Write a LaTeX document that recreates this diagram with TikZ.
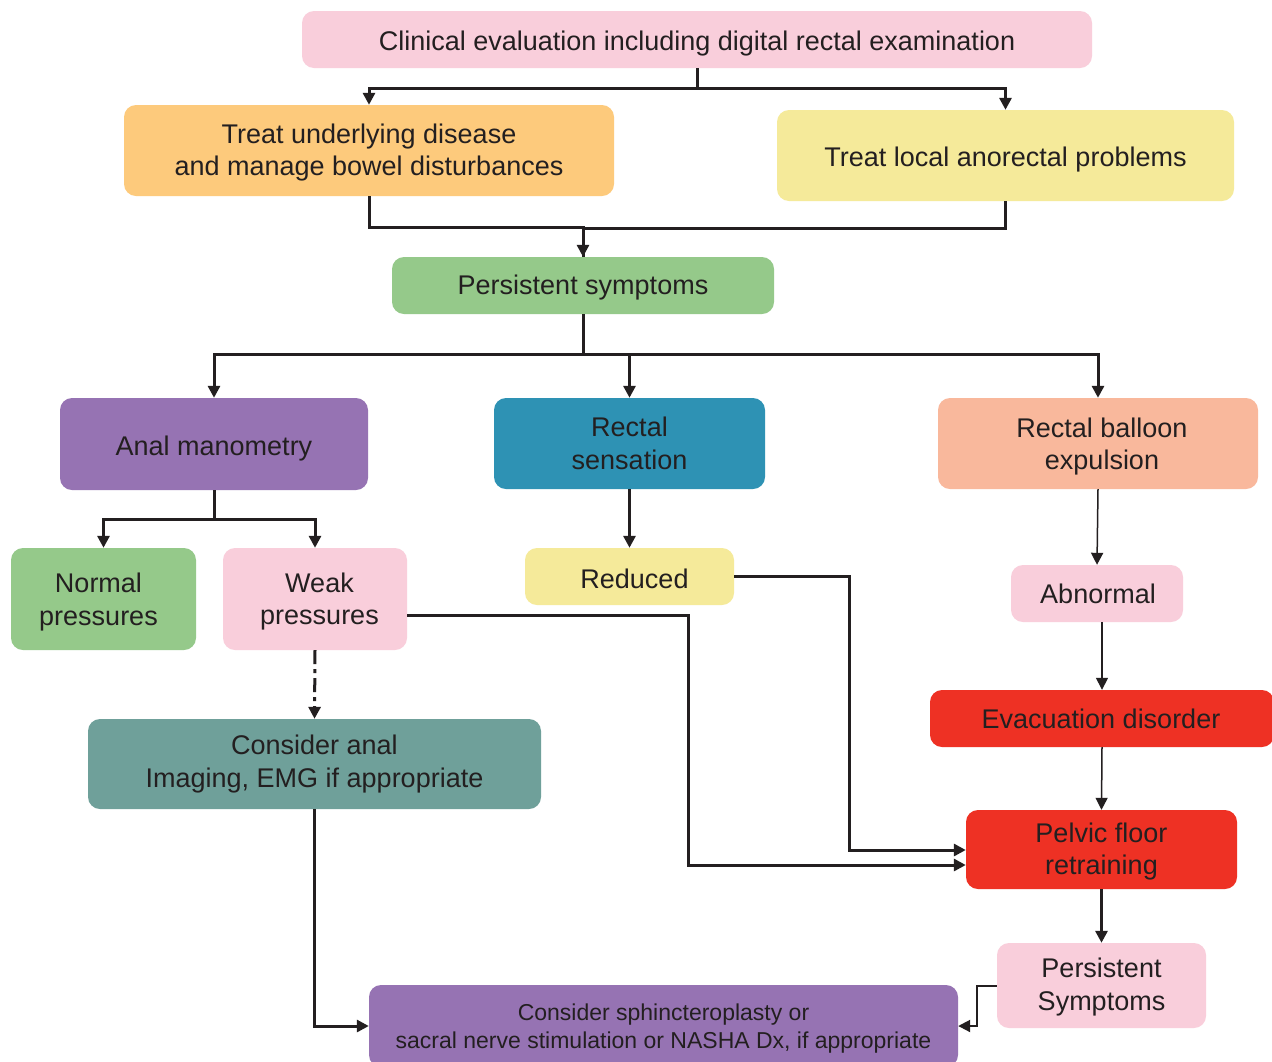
\documentclass[tikz,border=0pt]{standalone}
\usepackage{fontspec}
\setmainfont{Liberation Sans}
\usetikzlibrary{arrows.meta}
\definecolor{cpink}{HTML}{F9CEDB}
\definecolor{corange}{HTML}{FDCA7C}
\definecolor{cyellow}{HTML}{F5EA9A}
\definecolor{cgreen}{HTML}{95C98A}
\definecolor{cpurple}{HTML}{9673B3}
\definecolor{cteal}{HTML}{2E92B4}
\definecolor{csalmon}{HTML}{F9B89C}
\definecolor{cred}{HTML}{EE3124}
\definecolor{cgrey}{HTML}{6FA09A}
\definecolor{cink}{HTML}{231F20}
\tikzset{
  box/.style={rounded corners=12pt, inner sep=0pt},
  txt/.style={inner sep=0pt, align=center, text=cink,
    font=\fontsize{27}{32.5}\selectfont},
  stxt/.style={txt, font=\fontsize{23}{28}\selectfont},
  con/.style={draw=cink, line width=3pt},
  thin/.style={draw=cink, line width=1.5pt},
  arr/.style={-{Triangle[length=12pt,width=12pt]}},
}
\begin{document}
\begin{tikzpicture}[x=1pt,y=-1pt]
\useasboundingbox (0,0) rectangle (1272,1061);
\fill[white] (0,0) rectangle (1272,1061);
% nodes
\node[box, fill=cpink, minimum width=790pt, minimum height=57pt,
  label={[txt, yshift=-4.5pt]center:Clinical evaluation including digital rectal examination}] (clin) at (697,39.5) {};
\node[box, fill=corange, minimum width=490pt, minimum height=91pt,
  label={[txt, yshift=-2pt]center:{Treat underlying disease\\and manage bowel disturbances}}] (tu) at (369,150.5) {};
\node[box, fill=cyellow, minimum width=457pt, minimum height=91pt,
  label={[txt, yshift=-4pt]center:Treat local anorectal problems}] (tl) at (1005.5,155.5) {};
\node[box, fill=cgreen, minimum width=382pt, minimum height=57pt,
  label={[txt, yshift=-2pt]center:Persistent symptoms}] (ps) at (583,285.5) {};
\node[box, fill=cpurple, minimum width=308pt, minimum height=92pt,
  label={[txt, yshift=-5pt]center:Anal manometry}] (am) at (214,444) {};
\node[box, fill=cteal, minimum width=271pt, minimum height=91pt,
  label={[txt]center:{Rectal\\sensation}}] (rs) at (629.5,443.5) {};
\node[box, fill=csalmon, minimum width=320pt, minimum height=91pt,
  label={[txt, xshift=4pt, yshift=-3pt]center:{Rectal balloon\\expulsion}}] (rb) at (1098,443.5) {};
\node[box, fill=cgreen, minimum width=185pt, minimum height=102pt,
  label={[txt, xshift=-5pt, yshift=-3pt]center:{Normal\\pressures}}] (np) at (103.5,599) {};
\node[box, fill=cpink, minimum width=184pt, minimum height=102pt,
  label={[txt, xshift=4.5pt, yshift=-2.5pt]center:{Weak\\pressures}}] (wp) at (315,599) {};
\node[box, fill=cyellow, minimum width=209pt, minimum height=57pt,
  label={[txt, xshift=5pt, yshift=-2pt]center:Reduced}] (red) at (629.5,576.5) {};
\node[box, fill=cpink, minimum width=172pt, minimum height=57pt,
  label={[txt, xshift=1pt]center:Abnormal}] (abn) at (1097,593.5) {};
\node[box, fill=cred, minimum width=344pt, minimum height=57pt,
  label={[txt, xshift=-1pt]center:Evacuation disorder}] (evac) at (1102,718.5) {};
\node[box, fill=cgrey, minimum width=453pt, minimum height=90pt,
  label={[txt]center:{Consider anal\\Imaging, EMG if appropriate}}] (cai) at (314.5,764) {};
\node[box, fill=cred, minimum width=271pt, minimum height=79pt,
  label={[txt, yshift=-2pt]center:{Pelvic floor\\retraining}}] (pfr) at (1101.5,849.5) {};
\node[box, fill=cpink, minimum width=209pt, minimum height=85pt,
  label={[txt, yshift=-1.5pt]center:{Persistent\\Symptoms}}] (ps2) at (1101.5,985.5) {};
\node[box, fill=cpurple, minimum width=589pt, minimum height=82pt,
  label={[stxt, yshift=-3pt]center:{Consider sphincteroplasty or\\sacral nerve stimulation or NASHA Dx, if appropriate}}] (bot) at (663.5,1026) {};
% connectors
\draw[con,arr] (clin.south) -- ++(0,20) -| (tu.north);
\draw[con,arr] (clin.south) -- ++(0,20) -| (tl.north);
\draw[con,arr] (tu.south) -- ++(0,31) -| (ps.north);
\draw[con] (tl.south) -- ++(0,27) -| (ps.north);
\draw[con,arr] (ps.south) -- ++(0,40) -| (am.north);
\draw[con,arr] (ps.south) -- ++(0,40) -| (rs.north);
\draw[con,arr] (ps.south) -- ++(0,40) -| (rb.north);
\draw[con,arr] (am.south) -- ++(0,29) -| (np.north);
\draw[con,arr] (am.south) -- ++(0,29) -| (wp.north);
\draw[con,arr] (rs.south) -- (red.north);
\draw[thin,arr] (rb.south) -- (abn.north);
\draw[thin,arr] (evac.north |- abn.south) -- (evac.north);
\draw[thin,arr] (evac.south) -- (pfr.north);
\draw[con,arr,dash pattern=on 14pt off 5pt on 4pt off 5pt] (wp.south) -- (cai.north);
\draw[con,arr] ([yshift=-16pt]wp.east) -- ++(281,0) |- ([yshift=-15.5pt]pfr.west);
\draw[con,arr] (red.east) -- ++(115.5,0) |- ([yshift=-0.5pt]pfr.west);
\draw[con,line width=3.5pt,arr] (pfr.south) -- (ps2.north);
\draw[draw=cink,line width=2pt,arr] (ps2.west) -- ++(-20,0) |- (bot.east);
\draw[con,arr] (cai.south) |- (bot.west);
\end{tikzpicture}
\end{document}
